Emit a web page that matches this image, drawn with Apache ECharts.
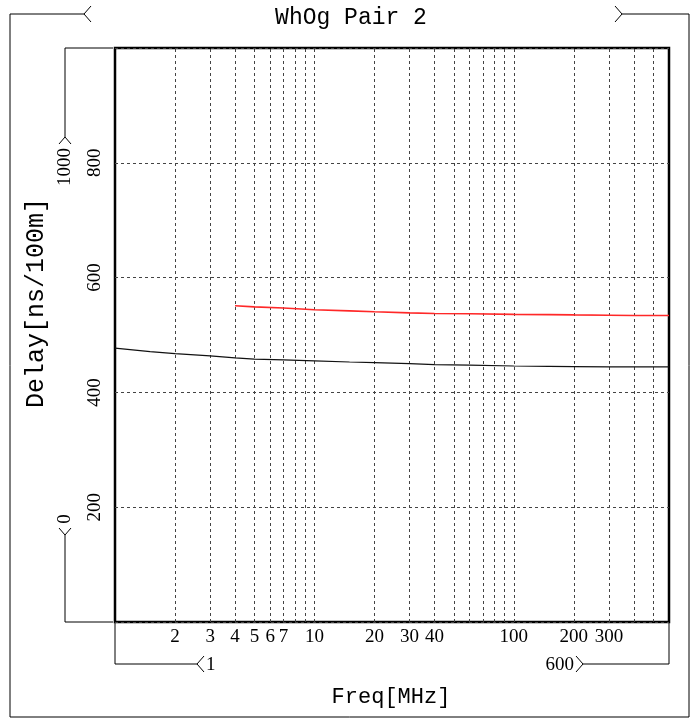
<!DOCTYPE html>
<html>
<head>
<meta charset="utf-8">
<script src="https://cdn.jsdelivr.net/npm/echarts@6/dist/echarts.min.js"></script>
<style>html,body{margin:0;padding:0;background:#fff}#c{width:699px;height:720px}</style>
</head>
<body>
<div id="c"></div>
<script>
// ---- data ----
const titleText = 'WhOg Pair 2';
const xName = 'Freq[MHz]';
const yName = 'Delay[ns/100m]';
const xMin = 1, xMax = 600;
const yMin = 0, yMax = 1000, yStep = 200;
const xTickLabels = [2, 3, 4, 5, 6, 7, 10, 20, 30, 40, 100, 200, 300];
const yTickLabels = [200, 400, 600, 800];
const xGridValues = [2,3,4,5,6,7,8,9,10,20,30,40,50,60,70,80,90,100,200,300,400,500];

const blackFreq  = [1, 1.5, 2, 3, 4, 5, 7, 10, 15, 20, 30, 40, 60, 100, 150, 200, 300, 400, 600];
const blackDelay = [477, 471, 467.5, 463.5, 460, 458, 456.5, 455, 453, 452, 450, 448.5, 447.5, 446, 445.5, 445, 444.5, 444.5, 444.5];
const redFreq    = [4, 5, 7, 10, 15, 20, 30, 40, 60, 100, 150, 200, 300, 400, 600];
const redDelay   = [551, 549, 547, 544, 542, 540.5, 538.5, 537.5, 537, 536, 535.5, 535, 534.5, 534, 534];

// ---- chart ----
const chart = echarts.init(document.getElementById('c'), null, {renderer: 'canvas'});
const serif = 'Liberation Serif';
const mono = 'Liberation Mono';
const pair = (xs, ys) => xs.map((x, i) => [x, ys[i]]);
const line = pts => ({type: 'polyline', shape: {points: pts}, style: {stroke: '#000', lineWidth: 1, fill: null}});

const option = {
  backgroundColor: '#fff',
  animation: false,
  grid: {left: 115, right: 30, top: 48, bottom: 98, show: true,
         borderColor: '#000', borderWidth: 2.5, backgroundColor: 'transparent'},
  xAxis: {
    type: 'log', logBase: 10, min: xMin, max: xMax,
    axisLine: {show: false}, axisTick: {show: false},
    splitLine: {show: false}, minorSplitLine: {show: false},
    axisLabel: {customValues: xTickLabels, margin: 6, color: '#000',
                fontFamily: serif, fontSize: 19, showMinLabel: true, showMaxLabel: true}
  },
  yAxis: {
    type: 'value', min: yMin, max: yMax, interval: yStep,
    axisLine: {show: false}, axisTick: {show: false},
    splitLine: {show: true, lineStyle: {type: [3, 3], color: '#444', width: 1}},
    axisLabel: {customValues: yTickLabels, rotate: 90, margin: 10, color: '#000',
                fontFamily: serif, fontSize: 19}
  },
  series: [
    {
      type: 'line', data: pair(blackFreq, blackDelay), showSymbol: false, symbol: 'none',
      lineStyle: {color: '#111', width: 1.2}, silent: true, z: 5,
      markLine: {
        silent: true, symbol: ['none', 'none'], label: {show: false},
        lineStyle: {type: [3, 3], color: '#444', width: 1},
        data: xGridValues.map(v => ({xAxis: v}))
      }
    },
    {
      type: 'line', data: pair(redFreq, redDelay), showSymbol: false, symbol: 'none',
      lineStyle: {color: '#ff2828', width: 1.6}, silent: true, z: 5
    }
  ],
  graphic: [
    // outer frame with title bracket
    line([[84,14],[10,14],[10,717],[689,717],[689,14],[622,14]]),
    line([[91,6],[84,14],[91,22]]),
    line([[615,6],[622,14],[615,22]]),
    {type: 'text', x: 351, y: 18, style: {text: titleText, fill: '#000', font: '23px "' + mono + '"', align: 'center', verticalAlign: 'middle'}},
    // y-range bracket
    line([[113,48],[65,48],[65,137]]),
    line([[59,144],[65,137],[71,144]]),
    {type: 'text', x: 65, y: 167, rotation: Math.PI / 2, style: {text: String(yMax), fill: '#000', font: '19px "' + serif + '"', align: 'center', verticalAlign: 'middle'}},
    {type: 'text', x: 65, y: 519, rotation: Math.PI / 2, style: {text: String(yMin), fill: '#000', font: '19px "' + serif + '"', align: 'center', verticalAlign: 'middle'}},
    line([[59,528],[65,535],[71,528]]),
    line([[65,535],[65,622],[113,622]]),
    // x-range bracket
    line([[115,622],[115,664],[197,664]]),
    line([[204,656],[197,664],[204,672]]),
    {type: 'text', x: 206, y: 665, style: {text: String(xMin), fill: '#000', font: '19px "' + serif + '"', align: 'left', verticalAlign: 'middle'}},
    {type: 'text', x: 574, y: 665, style: {text: String(xMax), fill: '#000', font: '19px "' + serif + '"', align: 'right', verticalAlign: 'middle'}},
    line([[576,656],[583,664],[576,672]]),
    line([[583,664],[669,664],[669,622]]),
    // axis names
    {type: 'text', x: 391, y: 697, style: {text: xName, fill: '#000', font: '22px "' + mono + '"', align: 'center', verticalAlign: 'middle'}},
    {type: 'text', x: 36, y: 303, rotation: Math.PI / 2, style: {text: yName, fill: '#000', font: '25px "' + mono + '"', align: 'center', verticalAlign: 'middle'}}
  ]
};
chart.setOption(option);
</script>
</body>
</html>
